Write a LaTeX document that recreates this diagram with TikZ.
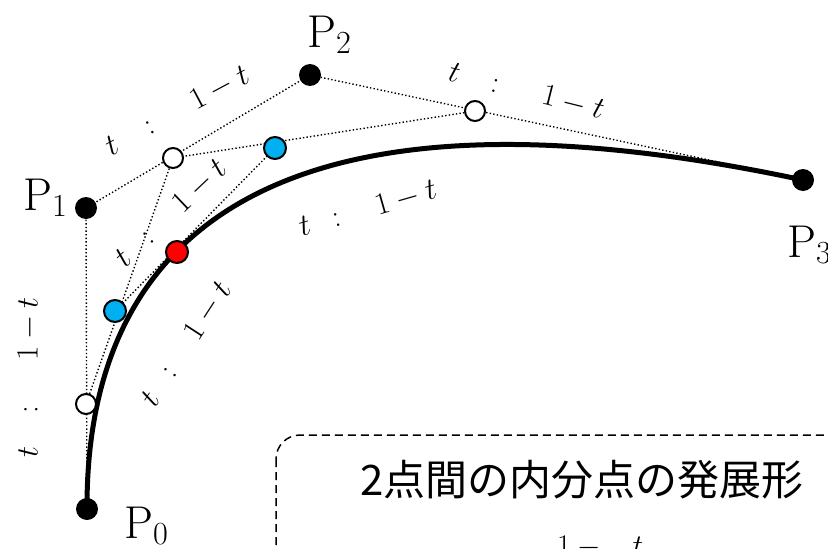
\RequirePackage{fix-cm}
\documentclass[tikz,border=0pt]{standalone}
\usepackage{fontspec}
\newfontfamily\jpfont{Noto Sans CJK JP}
\definecolor{ptblue}{HTML}{00B0F0}
\definecolor{ptred}{HTML}{FF0000}
\tikzset{
  dotline/.style={line width=1.4pt, dash pattern=on 1.4pt off 2.2pt},
  bezier/.style={line width=5pt},
  ctrlpt/.style={circle, fill=black, inner sep=0pt, minimum size=22pt},
  divpt/.style={circle, draw=black, line width=2pt, fill=white, inner sep=0pt, minimum size=20pt},
  bluept/.style={circle, draw=black, line width=2pt, fill=ptblue, inner sep=0pt, minimum size=22pt},
  redpt/.style={circle, draw=black, line width=2pt, fill=ptred, inner sep=0pt, minimum size=22pt},
  plabel/.style={anchor=base west, inner sep=0pt, font=\fontsize{46}{50}\selectfont},
  ratio/.style={inner sep=0pt, font=\fontsize{31}{36}\selectfont},
  framebox/.style={draw=black, line width=1.5pt, dash pattern=on 8pt off 5pt, rounded corners=24pt},
  jplabel/.style={anchor=base, inner sep=0pt, font=\jpfont\fontsize{42}{48}\selectfont},
}
\newcommand{\wideratio}{$t\hspace{1.05em}{:}\hspace{1.45em}1-t$}
\newcommand{\narrowratio}{$t\hspace{0.75em}{:}\hspace{1.2em}1-t$}
\begin{document}
\begin{tikzpicture}[x=1pt,y=-1pt]
\useasboundingbox (0,0) rectangle (828,549);
\fill[white] (0,0) rectangle (828,549);
\clip (0,0) rectangle (828,549);

% points
\coordinate (p0) at (87,509);
\coordinate (p1) at (86,208);
\coordinate (p2) at (310,75);
\coordinate (p3) at (803,180);
\coordinate (q0) at (86,404);
\coordinate (q1) at (173,158);
\coordinate (q2) at (475,111);
\coordinate (r0) at (115,311);
\coordinate (r1) at (275,148);
\coordinate (s)  at (177,252);

% control polygon and construction lines
\draw[dotline] (p0) -- (p1) -- (p2) -- (p3);
\draw[dotline] (q0) -- (q1) -- (q2);
\draw[dotline] (r0) -- (r1);

% Bezier curve
\draw[bezier] (p0) .. controls (p1) and (p2) .. (p3);

% dots
\node[ctrlpt] (P0) at (p0) {};
\node[ctrlpt] (P1) at (p1) {};
\node[ctrlpt] (P2) at (p2) {};
\node[ctrlpt] (P3) at (p3) {};
\node[divpt] (Q0) at (q0) {};
\node[divpt] (Q1) at (q1) {};
\node[divpt] (Q2) at (q2) {};
\node[bluept] (R0) at (r0) {};
\node[bluept] (R1) at (r1) {};
\node[redpt] (S) at (s) {};

% point labels
\node[plabel] (L0) at (124,538) {$\mathrm{P}_0$};
\node[plabel] (L1) at (23,210) {$\mathrm{P}_1$};
\node[plabel] (L2) at (307,47) {$\mathrm{P}_2$};
\node[plabel] (L3) at (787,257) {$\mathrm{P}_3$};

% ratio labels
\node[ratio, rotate=28] (T1) at (177.5,111) {\wideratio};
\node[ratio, rotate=-14] (T2) at (526.5,91.5) {\wideratio};
\node[ratio, rotate=90] (T3) at (29,377.5) {\wideratio};
\node[ratio, rotate=43.5] (T4) at (171,213.5) {\narrowratio};
\node[ratio, rotate=16] (T5) at (368,209) {\narrowratio};
\node[ratio, rotate=57] (T6) at (186.5,344) {\narrowratio};

% note box
\draw[framebox] (276,435) rectangle (880,620);
\node[jplabel] (J) at (582,495) {2点間の内分点の発展形};
\node[anchor=base west, inner sep=0pt, font=\fontsize{30}{34}\selectfont] (F) at (557,555) {$1-\hspace{25pt}t$};
\end{tikzpicture}
\end{document}
